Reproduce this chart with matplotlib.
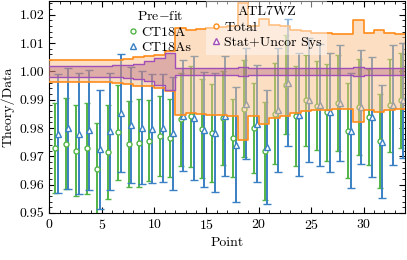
import matplotlib
matplotlib.use("Agg")
import matplotlib.pyplot as plt
from matplotlib.lines import Line2D
from matplotlib.ticker import MultipleLocator
import numpy as np

plt.rcParams["font.family"] = "cmr10"
plt.rcParams["mathtext.fontset"] = "cm"
plt.rcParams["axes.formatter.use_mathtext"] = True
plt.rcParams["font.size"] = 10

# Theory/Data per point
ct18a = [0.9729, 0.9744, 0.9720, 0.9728, 0.9655, 0.9715, 0.9785, 0.9744, 0.9747, 0.9755,
         0.9772, 0.9765, 0.9830, 0.9841, 0.9798, 0.9782, 0.9835, 0.9765, 0.9868, 0.9800,
         0.9718, 0.9851, 0.9953, 0.9841, 0.9897, 0.9879, 0.9855, 0.9888, 0.9791, 0.9873,
         0.9838, 0.9753, 0.9880, 0.9897]
ct18a_err = [0.0160, 0.0161, 0.0160, 0.0161, 0.0162, 0.0166, 0.0168, 0.0151, 0.0154, 0.0143,
             0.0140, 0.0137, 0.0165, 0.0178, 0.0174, 0.0174, 0.0167, 0.0138, 0.0171, 0.0159,
             0.0172, 0.0177, 0.0176, 0.0177, 0.0161, 0.0156, 0.0171, 0.0169, 0.0167, 0.0169,
             0.0169, 0.0166, 0.0165, 0.0167]
ct18as = [0.9780, 0.9799, 0.9780, 0.9793, 0.9724, 0.9788, 0.9853, 0.9810, 0.9801, 0.9798,
          0.9800, 0.9781, 0.9844, 0.9835, 0.9794, 0.9783, 0.9842, 0.9741, 0.9886, 0.9815,
          0.9732, 0.9864, 0.9959, 0.9847, 0.9900, 0.9880, 0.9855, 0.9888, 0.9791, 0.9874,
          0.9838, 0.9751, 0.9880, 0.9897]
ct18as_err = [0.0210, 0.0214, 0.0213, 0.0212, 0.0210, 0.0206, 0.0209, 0.0205, 0.0199, 0.0192,
              0.0190, 0.0199, 0.0195, 0.0220, 0.0202, 0.0210, 0.0211, 0.0202, 0.0196, 0.0206,
              0.0201, 0.0219, 0.0224, 0.0216, 0.0219, 0.0215, 0.0209, 0.0206, 0.0202, 0.0202,
              0.0211, 0.0200, 0.0212, 0.0203]

# relative uncertainties of the ATL7WZ data
total_unc = [0.0039, 0.0039, 0.0039, 0.0039, 0.0039, 0.0039, 0.0040, 0.0045, 0.0051, 0.0053,
             0.0059, 0.0071, 0.0153, 0.0147, 0.0150, 0.0153, 0.0155, 0.0159, 0.0241, 0.0159,
             0.0185, 0.0165, 0.0159, 0.0147, 0.0141, 0.0135, 0.0135, 0.0133, 0.0133, 0.0180,
             0.0137, 0.0145, 0.0136, 0.0133]
stat_uncor_unc = [0.0020, 0.0020, 0.0020, 0.0020, 0.0020, 0.0020, 0.0021, 0.0023, 0.0027, 0.0035,
                  0.0047, 0.0065, 0.0013, 0.0012, 0.0012, 0.0012, 0.0013, 0.0013, 0.0015, 0.0013,
                  0.0013, 0.0012, 0.0012, 0.0012, 0.0012, 0.0012, 0.0012, 0.0012, 0.0012, 0.0017,
                  0.0012, 0.0012, 0.0012, 0.0012]

green = "#52b447"
blue = "#3a80c4"
orange = "#ff8c1a"
purple = "#a04fb8"

n = len(ct18a)
idx = np.arange(n)
edges = np.arange(n + 1)

fig = plt.figure(figsize=(4.07, 2.6), dpi=100)
ax = fig.add_axes([0.1216, 0.181, 0.8744, 0.817])

ax.errorbar(idx + 0.55, ct18a, yerr=ct18a_err, fmt="o", color=green, mfc="white",
            ms=3.6, mew=1.0, elinewidth=1.4, capsize=2.5, capthick=1.4, zorder=2)
ax.errorbar(idx + 0.8, ct18as, yerr=ct18as_err, fmt="^", color=blue, mfc="white",
            ms=3.8, mew=1.0, elinewidth=1.4, capsize=2.8, capthick=1.4, zorder=2)

tot = np.append(total_unc, total_unc[-1])
stu = np.append(stat_uncor_unc, stat_uncor_unc[-1])
ax.fill_between(edges, 1 - tot, 1 + tot, step="post", color="#fbbf86", alpha=0.5,
                lw=0, zorder=3)
ax.step(edges, 1 + tot, where="post", color=orange, lw=1.2, zorder=4)
ax.step(edges, 1 - tot, where="post", color=orange, lw=1.2, zorder=4)
ax.fill_between(edges, 1 - stu, 1 + stu, step="post", color="#9c3d6e", alpha=0.3,
                lw=0, zorder=3)
ax.step(edges, 1 + stu, where="post", color=purple, lw=1.0, zorder=4)
ax.step(edges, 1 - stu, where="post", color=purple, lw=1.0, zorder=4)

ax.set_xlim(0, n)
ax.set_ylim(0.95, 1.025)
ax.xaxis.set_major_locator(MultipleLocator(5))
ax.xaxis.set_minor_locator(MultipleLocator(1))
ax.yaxis.set_major_locator(MultipleLocator(0.01))
ax.yaxis.set_minor_locator(MultipleLocator(0.002))
ax.yaxis.set_major_formatter(matplotlib.ticker.FormatStrFormatter("%.2f"))
ax.tick_params(which="both", direction="in", top=True, right=True)
ax.tick_params(which="major", length=4)
ax.tick_params(which="minor", length=2)
ax.set_xlabel("Point")
ax.set_ylabel("Theory/Data")

h1 = [Line2D([], [], ls="none", marker="o", color=green, mfc="white", ms=3.6, mew=1.0),
      Line2D([], [], ls="none", marker="^", color=blue, mfc="white", ms=3.8, mew=1.0)]
leg1 = ax.legend(h1, ["CT18A", "CT18As"], title="Pre$-$fit", loc="upper left",
                 bbox_to_anchor=(0.2065, 0.981), borderaxespad=0, frameon=False,
                 handlelength=0.6, handletextpad=0.3, labelspacing=0.2, borderpad=0.4)
leg1.set_zorder(6)
ax.add_artist(leg1)

h2 = [Line2D([], [], ls="none", marker="o", color=orange, mfc="white", ms=3.6, mew=1.0),
      Line2D([], [], ls="none", marker="^", color=purple, mfc="white", ms=3.8, mew=1.0)]
leg2 = ax.legend(h2, ["Total", "Stat+Uncor Sys"], title="ATL7WZ", loc="upper left",
                 bbox_to_anchor=(0.44, 1.0), borderaxespad=0, fancybox=False,
                 handlelength=0.6, handletextpad=0.3, labelspacing=0.2, borderpad=0.4)
leg2.get_frame().set_facecolor("white")
leg2.get_frame().set_alpha(0.45)
leg2.get_frame().set_linewidth(0)
leg2.set_zorder(6)

fig.savefig("out.png", dpi=100)
